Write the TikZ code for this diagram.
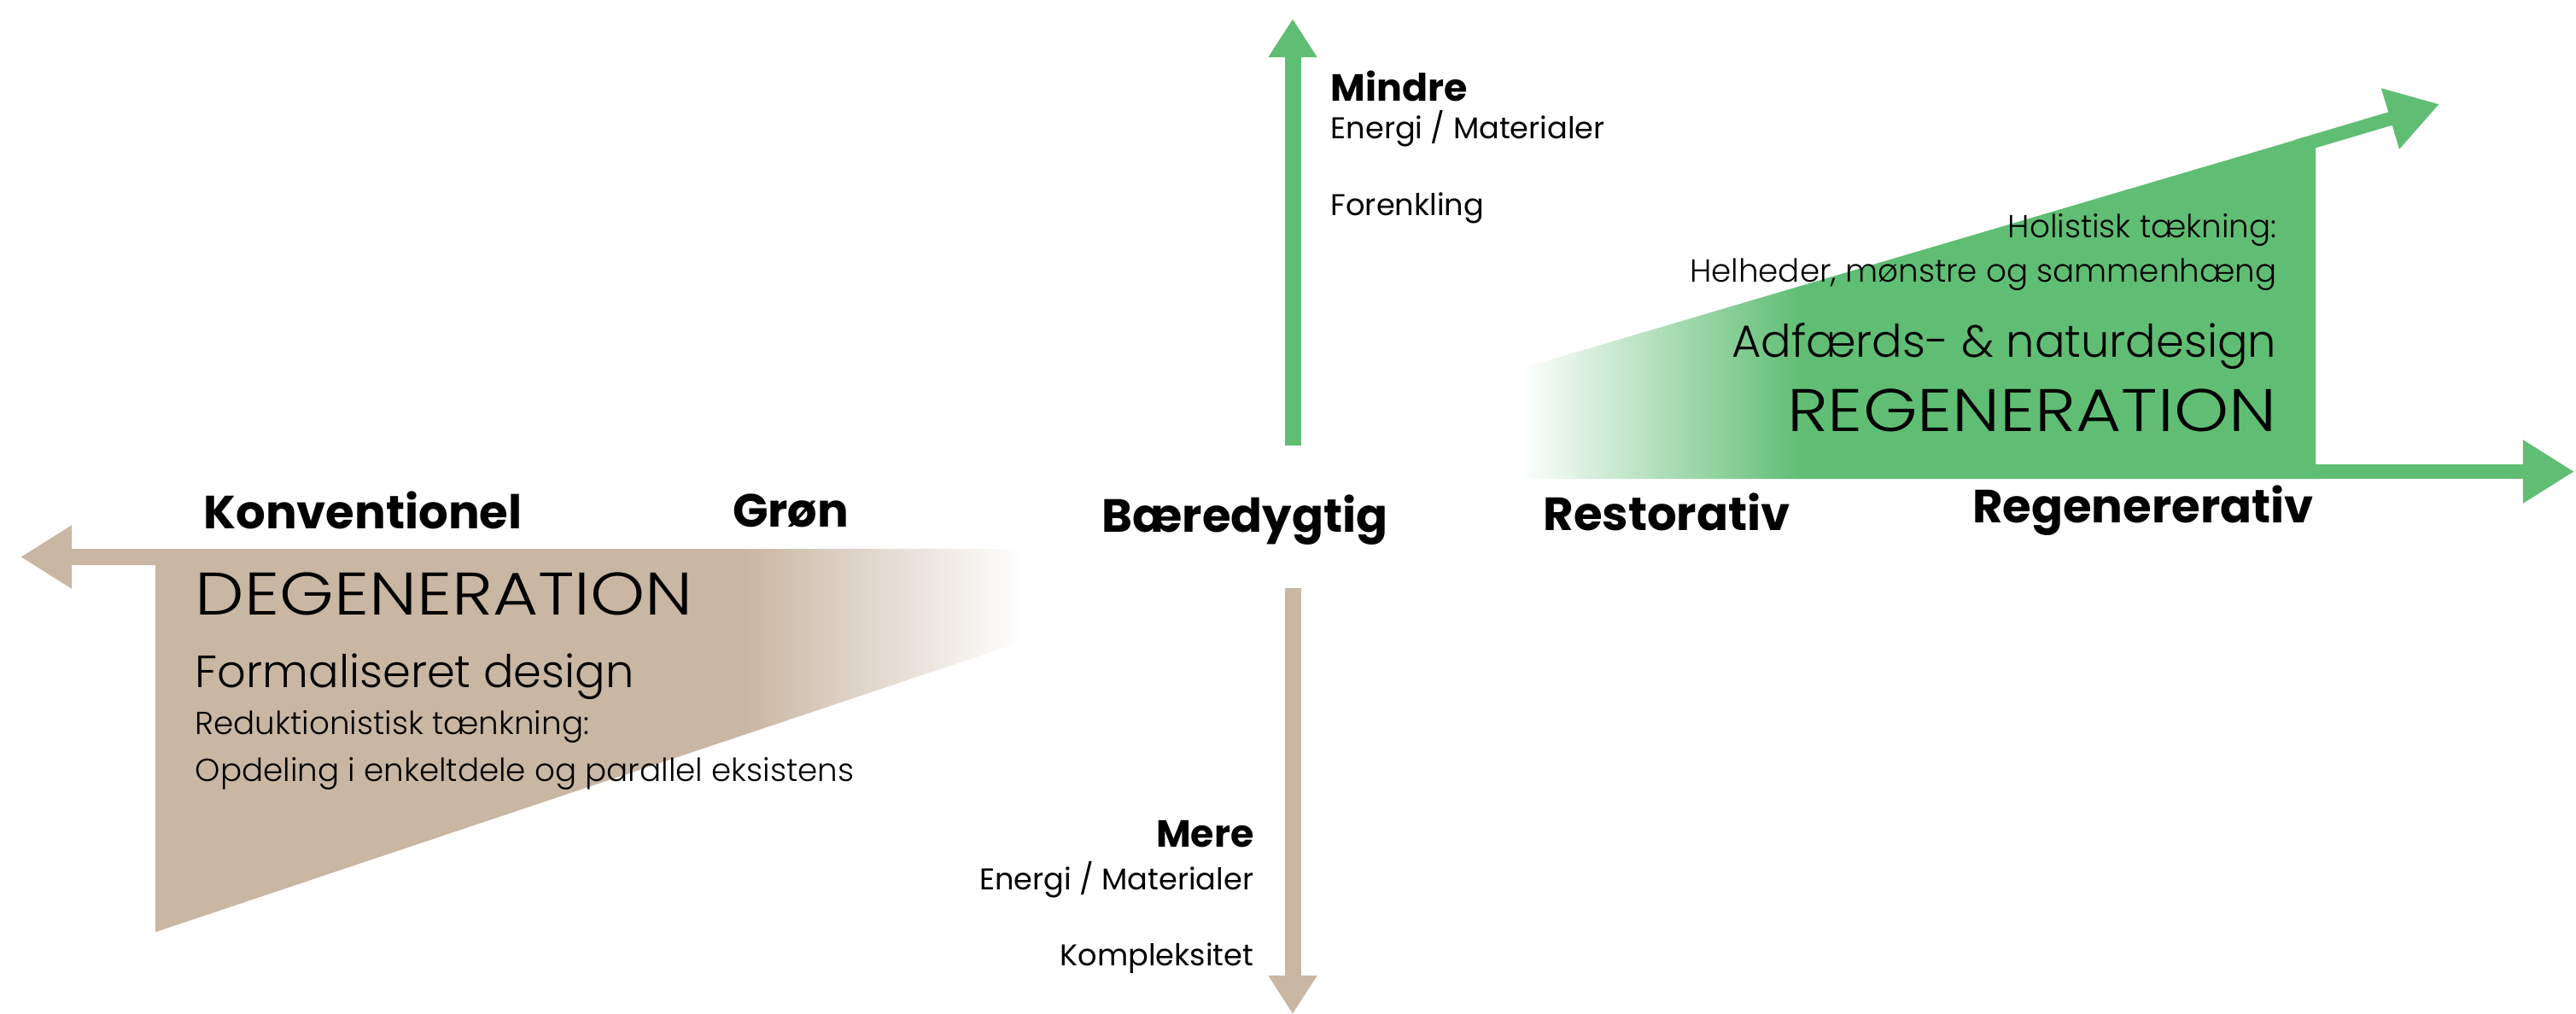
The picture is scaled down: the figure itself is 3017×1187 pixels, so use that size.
\documentclass[tikz,border=0pt]{standalone}
\usepackage{fontspec}
\setmainfont{Poppins}
\newfontfamily\lightfont{Poppins Light}
\newfontfamily\lightwide{Poppins Light}[FakeStretch=1.16]
\usetikzlibrary{arrows.meta}
\definecolor{leaf}{RGB}{96,190,116}
\definecolor{clay}{RGB}{201,182,163}

\begin{document}
\begin{tikzpicture}[x=0.01cm, y=-0.01cm,
  head/.style={-{Triangle[length=0.6cm,width=0.7cm]}},
  vhead/.style={-{Triangle[length=0.45cm,width=0.54cm]}},
  stage/.style={inner sep=0pt, anchor=base, font=\bfseries\fontsize{15.5}{18}\selectfont},
  cue/.style={inner sep=0pt, font=\bfseries\fontsize{12.6}{15}\selectfont},
  note/.style={inner sep=0pt, font=\fontsize{10}{12}\selectfont},
  title/.style={inner sep=0pt, font=\lightwide\fontsize{20}{24}\selectfont},
  design/.style={inner sep=0pt, font=\lightfont\fontsize{15}{18}\selectfont},
  thought/.style={inner sep=0pt, font=\lightfont\fontsize{10.6}{12}\selectfont}]
\useasboundingbox (0,0) rectangle (3017,1187);

% brown side: degeneration
\begin{scope}
 \clip (84,643) -- (1465,643) -- (1465,662) -- (182,1092) -- (182,662) -- (84,662) -- cycle;
 \fill[clay] (80,600) rectangle (870,1100);
 \shade[left color=clay, right color=white] (870,600) rectangle (1200,1100);
\end{scope}
\coordinate (degroot) at (110,652.5);
\coordinate (degtip) at (24,652.5);
\draw[clay, line width=0.19cm, head] (degroot) -- (degtip);

% green side: regeneration
\begin{scope}
 \clip (1343,561) -- (2712,561) -- (2712,157) -- cycle;
 \shade[left color=white, right color=leaf] (1780,100) rectangle (2110,600);
 \fill[leaf] (2110,100) rectangle (2720,600);
\end{scope}
\coordinate (riseroot) at (2690,171.5);
\coordinate (risetip) at (2857,122);
\coordinate (regroot) at (2700,552.5);
\coordinate (regtip) at (3015,552.5);
\draw[leaf, line width=0.16cm, head] (riseroot) -- (risetip);
\draw[leaf, line width=0.17cm, head] (regroot) -- (regtip);

% vertical axis
\coordinate (upfoot) at (1514,522);
\coordinate (uptip) at (1514,22);
\coordinate (downfoot) at (1514,689);
\coordinate (downtip) at (1514,1188);
\draw[leaf, line width=0.19cm, vhead] (upfoot) -- (uptip);
\draw[clay, line width=0.19cm, vhead] (downfoot) -- (downtip);

% stages
\node[stage] (konv) at (425,619) {Konventionel};
\node[stage] (gron) at (926,617) {Grøn};
\node[stage] (baer) at (1458,623) {Bæredygtig};
\node[stage] (resto) at (1952,621) {Restorativ};
\node[stage] (regen) at (2510,612) {Regenererativ};

% up / down
\node[cue, anchor=base west] (mindre) at (1558,118) {Mindre};
\node[note, anchor=base west] (mindreem) at (1558,162) {Energi / Materialer};
\node[note, anchor=base west] (forenk) at (1558,252) {Forenkling};
\node[cue, anchor=base east] (mere) at (1469,992) {Mere};
\node[note, anchor=base east] (mereem) at (1469,1042) {Energi / Materialer};
\node[note, anchor=base east] (kompl) at (1469,1131) {Kompleksitet};

% degeneration texts
\node[title, anchor=base west] (degen) at (228,720) {DEGENERATION};
\node[design, anchor=base west] (formal) at (228,805) {Formaliseret design};
\node[thought, anchor=base west] (redukt) at (228,860) {Reduktionistisk tænkning:};
\node[thought, anchor=base west] (opdel) at (228,915) {Opdeling i enkeltdele og parallel eksistens};

% regeneration texts
\node[thought, anchor=base east] (holist) at (2667,278) {Holistisk tækning:};
\node[thought, anchor=base east] (helhed) at (2667,330) {Helheder, mønstre og sammenhæng};
\node[design, anchor=base east] (adfaerd) at (2667,418) {Adfærds- \& naturdesign};
\node[title, anchor=base east] (regent) at (2667,505) {REGENERATION};
\end{tikzpicture}
\end{document}
